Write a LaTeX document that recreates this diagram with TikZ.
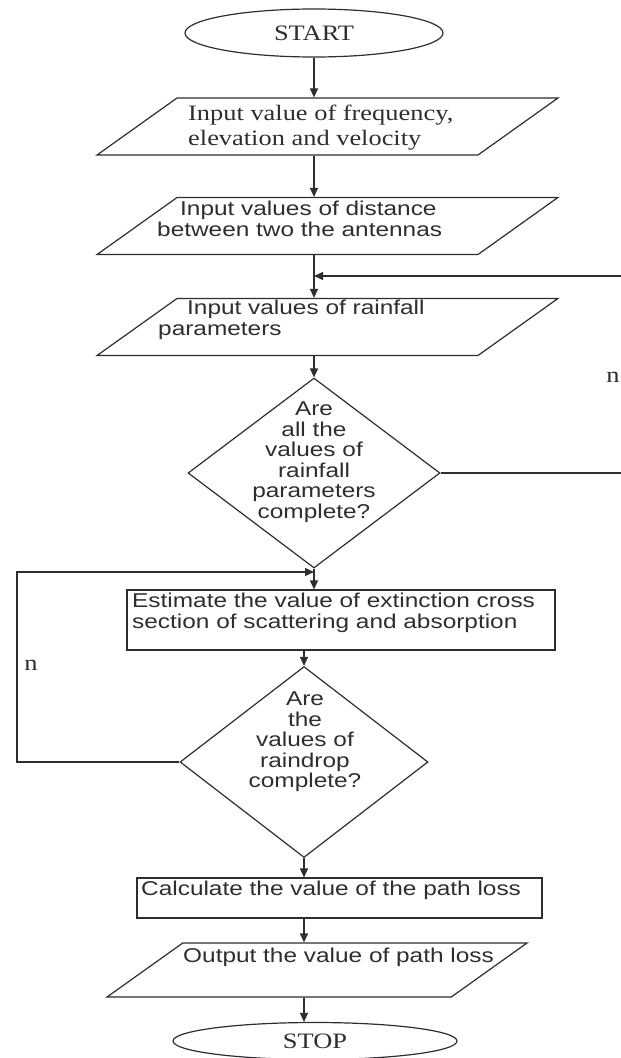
\documentclass[tikz,border=0pt]{standalone}
\usepackage{fontspec}
\setmainfont{Liberation Serif}[FakeStretch=1.2]
\setsansfont{Liberation Sans}[FakeStretch=1.22]
\usetikzlibrary{shapes.geometric,arrows.meta}
\definecolor{ink}{RGB}{45,45,50}
\begin{document}
\begin{tikzpicture}[x=1pt,y=-1pt]
	\tikzset{term/.style={ellipse, draw=ink, line width=1.2pt, inner sep=0, text=ink, font=\fontsize{22}{25}\selectfont\rmfamily},
		io/.style={trapezium, trapezium left angle=35.5, trapezium right angle=144.5, draw=ink, line width=1.2pt, inner sep=0, text width=301pt, text height=28.5pt, text depth=28.5pt},
		proc/.style={rectangle, draw=ink, line width=1.2pt, inner sep=0},
		test/.style={diamond, draw=ink, line width=1.2pt, inner sep=0},
		txt/.style={inner sep=0, anchor=west, align=left, text=ink, font=\fontsize{20}{20.5}\selectfont\sffamily},
		lbl/.style={inner sep=0, text=ink, font=\fontsize{22}{25}\selectfont\rmfamily},
		arr/.style={draw=ink, line width=1.2pt, -{Triangle[length=9pt,width=8pt]}}}
\useasboundingbox (0,0) rectangle (621,1058);
\clip (0,0) rectangle (621,1058);

\node[term, minimum width=258pt, minimum height=48pt] at (314,33) (start) {START};
\node[io] at (327.5,126.5) (in1) {};
\node[io] at (327.5,226) (in2) {};
\node[io] at (327.5,327) (in3) {};
\node[test, minimum width=252pt, minimum height=190pt] at (314,473) (dec1) {};
\node[proc, minimum width=428pt, minimum height=60pt] at (341,620) (est) {};
\node[test, minimum width=248pt, minimum height=191pt] at (304,762) (dec2) {};
\node[proc, minimum width=405pt, minimum height=40pt] at (339.5,898) (calc) {};
\node[io, text width=268.5pt, text height=27pt, text depth=27pt] at (317,970) (out) {};
\node[term, minimum width=284pt, minimum height=37pt] at (315,1041) (stop) {STOP};

\node[txt, font=\fontsize{22}{25}\selectfont\rmfamily] at (188,128) (t1) {Input value of frequency,\\elevation and velocity};
\node[txt] at (157,219) (t2) {\hspace*{23pt}Input values of distance\\between two the antennas};
\node[txt] at (158,320) (t3) {\hspace*{29pt}Input values of rainfall\\parameters};
\node[txt, anchor=center, align=center] at (314,462) (q1) {Are\\all the\\values of\\rainfall\\parameters\\complete?};
\node[txt] at (132,613) (t4) {Estimate the value of extinction cross\\section of scattering and absorption};
\node[txt, anchor=center, align=center] at (305,742) (q2) {Are\\the\\values of\\raindrop\\complete?};
\node[txt] at (141,890) (t5) {Calculate the value of the path loss};
\node[txt] at (183,957) (t6) {Output the value of path loss};

\node[lbl] at (613,377) (nr) {n};
\node[lbl] at (31,665) (nl) {n};

\draw[arr] (start) -- (start |- in1.north);
\draw[arr] (in1.south -| start) -- (in2.north -| start);
\draw[arr] (in2.south -| start) -- (in3.north -| start);
\draw[arr] (in3.south -| start) -- (dec1.north);
\draw[arr] (dec1.south) -- (dec1.south |- est.north);
\draw[arr] (est.south -| dec2) -- (dec2.north);
\draw[arr] (dec2.south) -- (dec2.south |- calc.north);
\draw[arr] (calc.south -| dec2) -- (out.north -| dec2);
\draw[arr] (out.south -| dec2) -- (stop.north -| dec2);

% loops back
\coordinate (rturn) at (640,276);
\draw[arr] (dec1.east) -| (rturn) -- (rturn -| start);
\coordinate (lturn) at (17,572);
\draw[arr] (dec2.west) -| (lturn) -- (lturn -| dec1);
\end{tikzpicture}
\end{document}
